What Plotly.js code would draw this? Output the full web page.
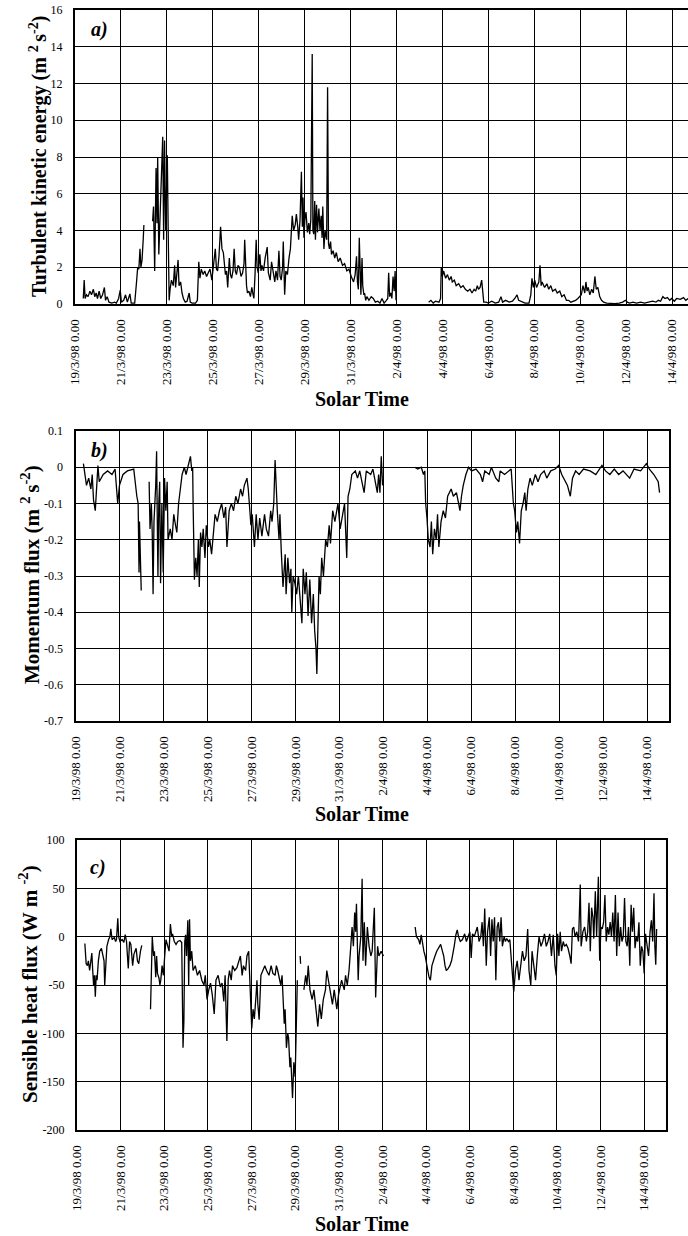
<!DOCTYPE html>
<html>
<head>
<meta charset="utf-8">
<script src="https://cdn.plot.ly/plotly-3.0.1.min.js"></script>
<style>
html,body{margin:0;padding:0;overflow:hidden;background:#fff;}
#chart{width:700px;height:1236px;}
</style>
</head>
<body>
<div id="chart"></div>
<script>
// ---- data (x = days since 19/3/98 0.00) ----
const tickDays = [0,2,4,6,8,10,12,14,16,18,20,22,24,26];
const tickLabels = ["19/3/98 0.00","21/3/98 0.00","23/3/98 0.00","25/3/98 0.00","27/3/98 0.00","29/3/98 0.00","31/3/98 0.00","2/4/98 0.00","4/4/98 0.00","6/4/98 0.00","8/4/98 0.00","10/4/98 0.00","12/4/98 0.00","14/4/98 0.00"];

const yTicksA = [0,2,4,6,8,10,12,14,16];
const yTextA = ["0","2","4","6","8","10","12","14","16"];
const yTicksB = [0.1,0,-0.1,-0.2,-0.3,-0.4,-0.5,-0.6,-0.7];
const yTextB = ["0.1","0","-0.1","-0.2","-0.3","-0.4","-0.5","-0.6","-0.7"];
const yTicksC = [100,50,0,-50,-100,-150,-200];
const yTextC = ["100","50","0","-50","-100","-150","-200"];

// a) Turbulent kinetic energy
const daysA = [0.36,0.40,0.44,0.50,0.57,0.65,0.72,0.80,0.86,0.92,0.98,1.05,1.12,1.20,1.28,1.33,1.40,1.48,1.60,1.72,1.80,1.90,1.97,2.02,2.12,2.20,2.28,2.39,2.45,2.60,2.68,2.73,2.78,2.83,2.87,2.92,2.97,3.00,3.02,
3.38,3.42,3.47,3.53,3.57,3.60,3.65,3.72,3.82,3.86,3.90,3.95,4.02,4.06,4.10,4.14,4.20,4.28,4.34,4.38,4.44,4.49,4.53,4.60,4.66,4.72,4.80,4.88,4.97,5.02,5.10,5.25,
5.33,5.39,5.44,5.50,5.58,5.65,5.73,5.80,5.88,5.96,6.02,6.11,6.16,6.21,6.27,6.34,6.40,6.46,6.52,6.55,6.60,6.65,6.72,6.77,6.82,6.88,6.93,6.98,7.03,7.10,7.16,7.23,7.30,7.36,7.39,7.43,7.47,7.51,7.57,7.64,7.70,7.74,7.79,7.84,7.89,7.93,7.98,8.05,8.10,8.14,8.21,8.28,8.37,8.42,8.50,8.56,8.63,8.70,8.75,8.82,8.88,8.93,8.98,9.04,9.07,9.10,9.13,9.18,9.25,9.32,9.38,
9.46,9.52,9.59,9.64,9.70,9.74,9.80,9.86,9.90,9.93,9.97,10.01,10.06,10.12,10.18,10.22,10.27,10.33,10.36,10.40,10.44,10.47,10.52,10.56,10.62,10.67,10.72,10.76,10.79,10.84,10.89,10.96,11.00,11.04,11.08,11.13,11.17,11.24,11.31,11.38,11.46,11.55,11.65,11.74,11.84,11.93,12.03,12.13,12.20,12.26,12.30,12.34,12.38,12.42,12.45,12.50,12.53,12.58,12.61,12.66,12.71,12.80,12.90,12.99,13.08,13.18,13.28,13.37,13.46,13.56,13.62,13.66,13.70,13.75,13.80,13.85,13.90,13.94,13.98,14.00,
15.40,15.50,15.60,15.70,15.85,15.92,15.95,16.00,16.05,16.14,16.22,16.30,16.38,16.43,16.52,16.60,16.71,16.80,16.90,17.00,17.10,17.20,17.29,17.38,17.45,17.52,17.57,17.64,17.71,17.76,17.80,17.90,18.00,18.15,18.30,18.45,18.55,18.62,18.75,18.91,19.05,19.15,19.25,19.32,19.48,19.60,19.77,19.85,19.90,19.96,20.02,20.10,20.20,20.25,20.30,20.34,20.45,20.55,20.63,20.72,20.80,20.92,21.00,21.11,21.20,21.30,21.40,21.50,21.59,21.70,21.80,21.90,21.97,22.05,22.12,22.20,22.25,22.30,22.35,22.42,22.50,22.57,22.64,22.70,22.77,22.85,22.93,23.02,23.15,23.30,23.50,23.70,23.85,23.97,24.05,24.15,24.30,24.45,24.64,24.80,25.02,25.15,25.30,25.40,25.50,25.60,25.69,25.80,25.90,25.98,26.10,26.20,26.36,26.50,26.60,26.70];
const tkeA = [0.3,1.3,0.3,0.5,0.4,0.7,0.5,0.8,0.4,0.6,0.3,0.7,0.3,0.5,0.9,0.2,0.4,0.1,0.05,0.1,0.05,0.3,0.75,0.1,0.2,0.5,0.1,0.55,0.05,0.05,1.2,2.0,1.9,3.0,2.0,2.4,3.5,4.3,null,
4.5,5.3,1.8,7.4,4.4,8.0,2.7,5.0,9.1,3.5,8.9,4.0,8.1,3.8,0.2,0.8,1.3,1.0,2.1,0.9,1.6,2.4,1.0,1.2,0.6,0.3,0.1,0.15,0.6,0.1,0.05,0.05,
0.2,2.3,1.4,1.9,1.6,1.8,1.5,1.7,1.9,1.3,2.0,3.0,1.9,1.8,2.6,4.2,3.0,2.8,2.0,1.6,1.8,0.9,2.5,1.6,1.4,1.8,3.0,1.8,1.6,2.1,2.0,1.5,1.7,2.2,3.5,1.4,1.0,0.6,0.7,0.4,0.9,0.6,0.3,1.6,3.5,2.0,1.7,2.7,1.8,2.1,1.8,2.5,3.1,1.7,1.3,2.3,1.6,1.2,1.8,1.3,2.9,1.5,1.3,2.0,3.4,1.2,0.5,1.8,1.6,2.5,3.0,
4.8,4.0,4.3,4.9,4.2,3.5,4.6,7.2,4.2,5.8,3.6,4.6,5.0,3.9,4.4,3.8,4.6,13.6,4.0,3.8,5.6,3.5,5.4,3.9,5.2,4.0,4.8,3.6,5.3,3.0,4.0,3.5,11.8,3.3,3.0,3.4,2.7,2.9,2.5,2.8,2.3,2.5,2.1,2.2,1.8,1.9,1.5,1.2,1.6,2.6,1.2,0.8,3.6,0.9,0.5,2.5,1.0,0.5,0.6,0.2,0.4,0.2,0.4,0.3,0.1,0.15,0.05,0.3,0.05,0.2,0.3,1.7,0.4,0.6,0.3,1.5,0.7,1.8,0.2,null,
0.1,0.2,0.05,0.15,0.1,0.3,2.0,1.5,1.8,1.4,1.6,1.3,1.5,1.2,1.3,1.0,1.1,0.9,1.0,0.8,0.7,0.8,0.6,0.8,0.7,1.0,0.8,0.9,1.3,0.6,0.1,0.1,0.05,0.15,0.05,0.1,0.4,0.1,0.2,0.1,0.15,0.3,0.5,0.2,0.1,0.05,0.05,0.5,1.4,0.9,1.3,0.9,1.2,2.1,1.0,1.2,0.9,1.1,0.8,1.0,0.7,0.8,0.6,0.7,0.4,0.5,0.2,0.2,0.1,0.15,0.2,0.3,0.4,0.5,1.0,0.6,1.2,0.7,0.9,0.5,0.8,0.6,1.5,0.8,0.9,0.4,0.2,0.1,0.05,0.02,0.02,0.05,0.1,0.2,0.1,0.05,0.1,0.05,0.1,0.05,0.1,0.15,0.1,0.2,0.15,0.4,0.3,0.35,0.2,0.3,0.15,0.3,0.25,0.35,0.2,0.3];

// b) Momentum flux
const daysB = [0.36,0.50,0.60,0.70,0.76,0.82,0.90,0.96,1.02,1.08,1.26,1.46,1.66,1.80,1.92,2.00,2.16,2.36,2.65,2.79,2.85,2.89,2.91,2.99,3.10,
3.35,3.39,3.45,3.49,3.53,3.57,3.65,3.69,3.73,3.75,3.79,3.83,3.87,3.93,3.99,4.05,4.11,4.17,4.21,4.31,4.39,4.47,4.55,4.61,4.69,4.79,4.85,4.95,5.03,5.11,5.23,5.29,5.33,
5.35,5.41,5.47,5.53,5.59,5.63,5.69,5.75,5.81,5.89,5.95,6.05,6.11,6.19,6.35,6.45,6.55,6.65,6.75,6.83,6.89,6.99,7.09,7.19,7.29,7.39,7.51,7.60,7.68,7.80,7.86,7.92,7.98,8.04,8.14,8.22,8.30,8.38,8.48,8.60,8.68,8.78,8.88,8.94,9.02,9.08,9.14,9.18,9.26,9.30,9.36,9.44,9.54,9.58,9.66,9.74,9.80,9.84,9.90,9.98,10.06,10.14,10.30,10.36,10.44,10.50,10.58,10.66,10.74,10.82,10.88,10.94,10.98,11.02,11.08,11.14,11.20,11.28,11.38,11.46,11.54,11.60,11.70,11.80,11.94,12.04,12.14,12.24,12.34,12.40,12.48,12.57,12.73,12.83,12.93,13.13,13.23,13.43,13.53,13.65,13.73,13.79,13.85,13.91,13.97,14.10,
15.43,15.57,15.73,15.83,15.89,15.93,15.99,16.05,16.13,16.19,16.25,16.33,16.41,16.47,16.53,16.63,16.73,16.83,16.93,17.09,17.19,17.33,17.43,17.49,17.56,17.64,17.76,17.88,18.02,18.22,18.42,18.52,18.62,18.82,18.92,19.12,19.26,19.32,19.52,19.72,19.82,19.92,19.98,20.06,20.12,20.20,20.28,20.36,20.44,20.50,20.58,20.68,20.78,20.92,21.04,21.16,21.32,21.44,21.62,21.82,21.98,22.12,22.28,22.38,22.51,22.61,22.75,22.91,23.11,23.41,23.67,23.95,24.11,24.31,24.51,24.71,24.91,25.21,25.41,25.71,25.97,26.11,26.31,26.51,26.57];
const momB = [0.01,-0.05,-0.03,-0.06,-0.02,-0.09,-0.12,-0.05,0.005,-0.04,-0.02,-0.01,-0.02,-0.005,-0.1,-0.05,-0.02,-0.01,-0.005,-0.08,-0.1,-0.29,-0.15,-0.34,null,
-0.04,-0.17,-0.1,-0.18,-0.35,-0.15,-0.05,0.044,-0.2,-0.3,-0.1,-0.04,-0.32,-0.1,-0.29,-0.03,-0.12,-0.04,-0.2,-0.17,-0.2,-0.13,-0.16,-0.18,-0.1,-0.05,-0.02,0,-0.02,0,0.03,-0.01,0,
-0.1,-0.31,-0.25,-0.3,-0.2,-0.33,-0.18,-0.22,-0.17,-0.25,-0.16,-0.22,-0.2,-0.24,-0.13,-0.15,-0.12,-0.1,-0.14,-0.11,-0.22,-0.12,-0.1,-0.12,-0.08,-0.1,-0.06,-0.08,-0.05,-0.03,-0.06,-0.12,-0.16,-0.13,-0.22,-0.13,-0.2,-0.14,-0.19,-0.13,-0.17,-0.19,-0.12,-0.15,-0.1,0.02,-0.1,-0.12,-0.2,-0.13,-0.23,-0.33,-0.24,-0.35,-0.25,-0.32,-0.28,-0.4,-0.3,-0.32,-0.35,-0.3,-0.43,-0.28,-0.35,-0.29,-0.41,-0.31,-0.43,-0.35,-0.45,-0.5,-0.57,-0.45,-0.3,-0.35,-0.25,-0.3,-0.2,-0.22,-0.16,-0.21,-0.12,-0.15,-0.1,-0.17,-0.13,-0.1,-0.25,-0.08,-0.06,-0.02,-0.01,-0.03,-0.01,-0.07,-0.01,-0.02,-0.005,-0.04,-0.07,-0.02,-0.07,0.03,-0.05,null,
0,-0.005,0,-0.02,-0.01,-0.1,-0.14,-0.2,-0.22,-0.15,-0.24,-0.17,-0.2,-0.13,-0.22,-0.15,-0.12,-0.14,-0.08,-0.06,-0.08,-0.07,-0.1,-0.12,-0.08,-0.05,-0.02,0,-0.01,-0.005,-0.02,-0.04,-0.01,-0.02,0,-0.03,-0.04,-0.01,-0.02,-0.01,-0.005,-0.1,-0.12,-0.18,-0.15,-0.21,-0.12,-0.1,-0.07,-0.12,-0.06,-0.03,-0.05,-0.02,-0.04,-0.02,-0.01,-0.03,-0.01,-0.005,0.005,-0.02,-0.04,-0.05,-0.08,-0.03,-0.01,-0.02,-0.005,-0.01,-0.02,0.005,-0.01,-0.02,-0.005,-0.02,-0.01,-0.03,-0.005,-0.01,0.01,-0.005,-0.02,-0.04,-0.07];

// c) Sensible heat flux
const daysC = [0.36,0.42,0.48,0.52,0.58,0.64,0.68,0.72,0.76,0.80,0.84,0.88,0.92,0.98,1.04,1.12,1.18,1.24,1.27,1.31,1.37,1.45,1.51,1.55,1.61,1.71,1.77,1.81,1.87,1.91,1.97,2.07,2.15,2.21,2.27,2.35,2.41,2.47,2.55,2.61,2.71,2.77,2.83,2.91,2.97,3.10,
3.37,3.45,3.51,3.55,3.61,3.65,3.69,3.76,3.80,3.84,3.90,3.96,4.02,4.08,4.14,4.22,4.28,4.34,4.38,4.46,4.54,4.62,4.72,4.80,4.86,4.90,4.94,4.98,5.02,5.08,5.12,5.16,5.20,5.26,5.32,5.42,5.52,5.62,5.72,5.82,5.88,5.96,6.04,6.12,6.20,6.29,6.37,6.47,6.57,6.65,6.73,6.79,6.87,6.93,6.99,7.07,7.13,7.23,7.33,7.43,7.49,7.57,7.63,7.73,7.79,7.87,7.93,8.01,8.07,8.13,8.21,8.25,8.29,8.35,8.43,8.53,8.61,8.69,8.80,8.90,8.98,9.08,9.14,9.20,9.28,9.34,9.40,9.44,9.50,9.54,9.60,9.66,9.70,9.76,9.80,9.88,9.94,10.00,10.06,10.10,
10.20,10.23,10.25,
10.30,10.40,10.48,10.54,10.60,10.68,10.78,10.86,10.94,10.98,11.04,11.12,11.20,11.29,11.35,11.39,11.45,11.55,11.65,11.71,11.79,11.85,11.91,11.99,12.07,12.13,12.25,12.31,12.39,12.47,12.55,12.61,12.67,12.73,12.77,12.81,12.89,12.93,13.01,13.07,13.11,13.17,13.23,13.31,13.39,13.47,13.53,13.57,13.63,13.69,13.78,13.84,13.94,14.05,
15.46,15.50,15.56,15.66,15.72,15.78,15.84,15.90,15.96,16.02,16.08,16.14,16.20,16.27,16.33,16.41,16.49,16.57,16.67,16.75,16.81,16.87,16.93,17.01,17.09,17.17,17.23,17.29,17.37,17.43,17.49,17.57,17.67,17.77,17.85,17.93,18.01,18.07,18.13,18.21,18.29,18.35,18.43,18.51,18.57,18.63,18.69,18.76,18.82,18.90,18.96,19.02,19.08,19.14,19.20,19.26,19.32,19.38,19.44,19.50,19.58,19.64,19.70,19.78,19.84,19.90,19.96,20.02,20.10,20.18,20.26,20.34,20.42,20.50,20.58,20.66,20.72,20.80,20.86,20.94,21.02,21.10,21.18,21.27,21.35,21.43,21.51,21.59,21.67,21.75,21.83,21.91,21.97,22.03,22.09,22.15,22.21,22.29,22.35,22.43,22.51,22.59,22.65,22.71,22.77,22.83,22.91,22.99,23.07,23.11,23.19,23.27,23.35,23.41,23.47,23.53,23.59,23.65,23.69,23.76,23.82,23.90,23.96,24.02,24.08,24.14,24.20,24.26,24.32,24.38,24.44,24.50,24.56,24.62,24.68,24.74,24.80,24.86,24.92,24.98,25.04,25.10,25.16,25.22,25.28,25.34,25.40,25.46,25.52,25.58,25.64,25.70,25.76,25.82,25.88,25.94,26.00,26.06,26.12,26.20,26.27,26.33,26.39,26.45,26.49,26.53,26.57];
const shfC = [-7,-28,-30,-25,-35,-20,-17,-35,-50,-40,-62,-40,-45,-25,-15,-12,-18,-25,-50,-30,-10,-3,0,8,-3,-1,-5,-3,19,0,-5,-3,-6,2,-5,-33,-5,-8,-30,-18,-12,-25,-28,-15,-9,null,
-75,0,-20,-15,-42,-20,-38,-43,-50,-45,-30,-40,-20,-3,-8,-15,13,0,3,-5,-8,-5,-4,-6,-115,-87,-5,2,-20,17,-50,18,-25,-15,-35,-30,-40,-35,-45,-50,-40,-65,-55,-48,-60,-80,-45,-40,-52,-48,-67,-40,-108,-45,-35,-45,-30,-35,-32,-25,-20,-40,-30,-35,-20,-15,-60,-95,-75,-85,-60,-45,-70,-86,-40,-35,-30,-35,-40,-30,-38,-40,-30,-35,-45,-50,-40,-65,-90,-75,-115,-100,-105,-135,-125,-167,-130,-145,-90,-45,null,
-20,-28,null,
-55,-40,-50,-30,-55,-65,-55,-70,-80,-93,-70,-85,-65,-60,-55,-35,-50,-60,-70,-55,-65,-75,-60,-50,-45,-55,-40,-50,-35,-10,10,-10,25,5,34,-45,-20,0,60,-25,15,-30,10,-10,-20,-15,0,30,-63,-10,-20,-15,-20,null,
10,0,-3,-8,2,-8,-15,-20,-30,-35,-42,-45,-30,-25,-20,-15,-12,-8,-15,-20,-30,-35,-33,-30,-25,-15,-10,2,7,0,-5,-3,3,-5,0,5,-22,3,0,5,10,-5,0,15,-10,29,-30,5,20,-20,18,-5,20,-45,10,15,-5,20,-10,0,-5,-2,-5,-3,-20,-40,-57,-35,-25,-45,-30,-15,-25,-20,8,-35,-50,-15,-30,-45,-20,0,-10,-5,3,-10,-5,3,-20,2,-30,-40,3,-20,5,-15,-5,-10,-8,-12,-20,-28,8,10,0,5,-5,54,-10,5,10,-5,5,35,-15,30,20,-2,47,0,62,-25,10,8,15,43,-5,10,2,15,0,25,-5,43,-20,25,-10,10,-5,0,40,-5,-10,10,-30,33,5,30,-12,0,-5,15,-30,-10,-15,-38,3,-10,-20,5,17,-5,45,-10,-29,8];

// ---- layout helpers (pixel -> paper) ----
const W = 700, H = 1236;
const fx = p => p / W;
const fy = p => 1 - p / H;
const serif = 'Liberation Serif, Times New Roman, serif';

function xAxis(left, right, anchor) {
  return {
    domain: [fx(left), fx(right)], anchor: anchor, range: [0, 27],
    tickmode: 'array', tickvals: tickDays, ticktext: tickLabels, tickangle: -90,
    tickfont: {family: serif, size: 13, color: '#000'},
    ticks: '', ticklabelstandoff: 8,
    showgrid: true, gridcolor: '#000', gridwidth: 1,
    showline: true, linecolor: '#000', linewidth: 2, mirror: true,
    zeroline: false, fixedrange: true
  };
}
function yAxis(top, bottom, anchor, range, vals, text) {
  return {
    domain: [fy(bottom), fy(top)], anchor: anchor, range: range,
    tickmode: 'array', tickvals: vals, ticktext: text,
    tickfont: {family: serif, size: 12, color: '#000'},
    ticks: '', ticklabelstandoff: 8,
    showgrid: true, gridcolor: '#000', gridwidth: 1,
    showline: true, linecolor: '#000', linewidth: 2, mirror: true,
    zeroline: false, fixedrange: true
  };
}
const lineStyle = {color: '#000', width: 1.3};
const traces = [
  {x: daysA, y: tkeA, xaxis: 'x', yaxis: 'y', mode: 'lines', line: lineStyle, connectgaps: false, hoverinfo: 'skip'},
  {x: daysB, y: momB, xaxis: 'x2', yaxis: 'y2', mode: 'lines', line: lineStyle, connectgaps: false, hoverinfo: 'skip'},
  {x: daysC, y: shfC, xaxis: 'x3', yaxis: 'y3', mode: 'lines', line: lineStyle, connectgaps: false, hoverinfo: 'skip'}
];

function ann(text, x, y, size, angle, extra) {
  return Object.assign({
    text: text, x: fx(x), y: fy(y), xref: 'paper', yref: 'paper',
    showarrow: false, xanchor: 'center', yanchor: 'middle',
    textangle: angle, font: {family: serif, size: size, color: '#000'}
  }, extra || {});
}

const layout = {
  width: W, height: H,
  margin: {l: 0, r: 0, t: 0, b: 0},
  paper_bgcolor: '#fff', plot_bgcolor: '#fff',
  showlegend: false,
  xaxis: xAxis(75, 695, 'y'),
  yaxis: yAxis(10, 304, 'x', [0, 16], yTicksA, yTextA),
  xaxis2: xAxis(75.5, 669, 'y2'),
  yaxis2: yAxis(431, 721, 'x2', [-0.7, 0.1], yTicksB, yTextB),
  xaxis3: xAxis(77, 666, 'y3'),
  yaxis3: yAxis(840, 1130, 'x3', [-200, 100], yTicksC, yTextC),
  annotations: [
    ann('<b>Turbulent kinetic energy (m <sup>2 </sup>s<sup>-2</sup>)</b>', 38, 157, 20, -90),
    ann('<b>Momentum flux (m <sup>2 </sup>s<sup>-2</sup>)</b>', 30, 575, 21, -90),
    ann('<b>Sensible heat flux (W m <sup>-2</sup>)</b>', 28, 984, 21, -90),
    ann('<b>Solar Time</b>', 362, 399, 20, 0),
    ann('<b>Solar Time</b>', 362, 814, 20, 0),
    ann('<b>Solar Time</b>', 362, 1224, 20, 0),
    ann('<b><i>a)</i></b>', 99, 30, 20, 0),
    ann('<b><i>b)</i></b>', 99, 450, 20, 0),
    ann('<b><i>c)</i></b>', 98, 867, 20, 0)
  ]
};

Plotly.newPlot('chart', traces, layout, {displayModeBar: false, staticPlot: true});
</script>
</body>
</html>
